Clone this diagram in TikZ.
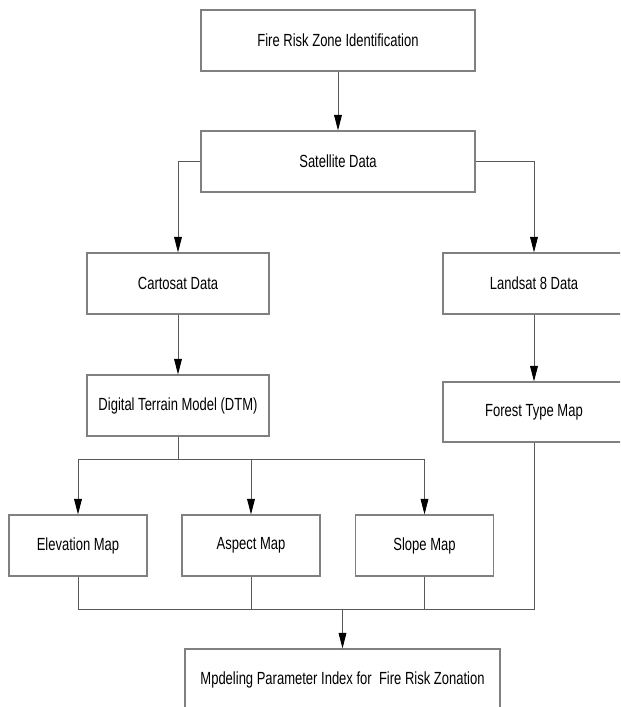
\documentclass[tikz,border=0pt]{standalone}
\usepackage{fontspec}
\setmainfont{Liberation Sans}[FakeStretch=0.74]
\usetikzlibrary{arrows.meta,positioning}

\begin{document}
\begin{tikzpicture}[x=0.025cm,y=-0.025cm,
    box/.style={draw=gray, line width=0.8pt, inner sep=0pt,
        font=\fontsize{12.5}{15}\selectfont, minimum height=1.525cm},
    widebox/.style={box, minimum width=6.85cm},
    midbox/.style={box, minimum width=4.55cm},
    mapbox/.style={box, minimum width=3.45cm},
    link/.style={draw=black!65, line width=0.6pt},
    arrow/.style={link, -{Triangle[length=11pt,width=5.5pt,color=black]}}]

    % Page size.
    \fill[white] (0,0) rectangle (620,707);
    \useasboundingbox (0,0) rectangle (620,707);
    \clip (0,0) rectangle (620,707);

    % Draw boxes.
    \node[widebox] (fire) at (338,40.5) {Fire Risk Zone Identification};
    \node[widebox] (sat) at (338,161.5) {Satellite Data};
    \node[midbox] (carto) at (178,283.5) {Cartosat Data};
    \node[midbox] (land) at (534,283.5) {Landsat 8 Data};
    \node[midbox] (dtm) at (178,405.5) {Digital Terrain Model (DTM)};
    \node[midbox, minimum height=1.5cm] (forest) at (534,412) {Forest Type Map};
    \node[mapbox] (elev) at (78,545.5) {Elevation Map};
    \node[mapbox] (aspect) at (251,545.5) {Aspect Map};
    \node[mapbox] (slope) at (424.5,545.5) {Slope Map};
    \node[box, minimum width=7.875cm, minimum height=1.55cm] (index) at (342.5,680)
        {Mpdeling Parameter Index for\ \ Fire Risk Zonation};

    % Draw top arrows.
    \draw[arrow] (fire) -- (sat);
    \draw[arrow] (sat.west) -| (carto.north);
    \draw[arrow] (sat.east) -| (land.north);
    \draw[arrow] (carto) -- (dtm);
    \draw[arrow] (land) -- (forest);

    % Split DTM into maps.
    \coordinate (split) at (178,459);
    \draw[link] (dtm.south) -- (split);
    \foreach \m in {elev,aspect,slope}
        \draw[arrow] (split) -| (\m.north);

    % Join maps into index.
    \coordinate (join) at (342.5,609);
    \foreach \m in {elev,aspect,slope,forest}
        \draw[link] (\m.south) |- (join);
    \draw[arrow] (join) -- (index.north);

\end{tikzpicture}
\end{document}
